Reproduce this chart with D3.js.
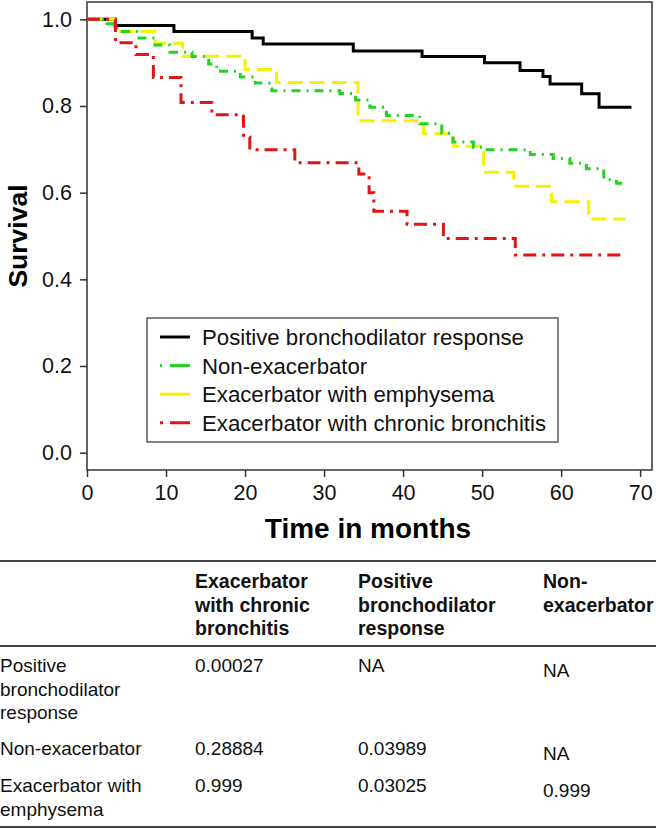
<!DOCTYPE html>
<html>
<head>
<meta charset="utf-8">
<script src="https://cdn.jsdelivr.net/npm/d3@7"></script>
<style>
  body { margin: 0; background: #fff; }
  text { font-family: "Liberation Sans", Arial, sans-serif; }
</style>
</head>
<body>
<div class="canva"></div>
<script>
// survival curves (months, survival)
const bdMonths   = [0, 3.5, 11.0, 20.9, 22.3, 33.7, 42.4, 50.3, 54.8, 57.7, 58.6, 62.6, 64.8, 68.9];
const bdSurv     = [1.0, 0.986, 0.972, 0.957, 0.943, 0.927, 0.914, 0.900, 0.882, 0.868, 0.851, 0.828, 0.797, 0.797];

const nonMonths  = [0, 2.3, 3.8, 6.3, 8.6, 10.5, 13.3, 15.4, 16.4, 19.4, 21.3, 23.4, 32.0, 34.0, 35.8, 37.9, 42.1, 44.9, 46.3, 48.9, 50.1, 56.1, 59.0, 61.1, 63.2, 65.4, 67.0, 68.3];
const nonSurv    = [1.0, 0.990, 0.972, 0.957, 0.941, 0.924, 0.914, 0.897, 0.880, 0.867, 0.853, 0.835, 0.829, 0.814, 0.797, 0.778, 0.759, 0.737, 0.717, 0.705, 0.699, 0.688, 0.679, 0.668, 0.655, 0.630, 0.622, 0.622];

const emphMonths = [0, 3.5, 8.6, 12.1, 20.0, 24.0, 34.3, 42.6, 46.4, 50.2, 54.0, 58.8, 63.5, 68.1];
const emphSurv   = [1.0, 0.972, 0.945, 0.915, 0.884, 0.854, 0.766, 0.736, 0.707, 0.647, 0.615, 0.579, 0.539, 0.539];

const cbMonths   = [0, 3.6, 6.2, 8.4, 11.9, 15.8, 19.8, 20.6, 26.3, 34.4, 35.7, 36.3, 40.5, 45.1, 54.2, 68.2];
const cbSurv     = [1.0, 0.946, 0.919, 0.866, 0.808, 0.780, 0.728, 0.699, 0.669, 0.643, 0.600, 0.557, 0.527, 0.494, 0.456, 0.456];

const groupNames = ["Positive bronchodilator response", "Non-exacerbator", "Exacerbator with emphysema", "Exacerbator with chronic bronchitis"];

const xTicks = [0, 10, 20, 30, 40, 50, 60, 70];
const yTicks = [0.0, 0.2, 0.4, 0.6, 0.8, 1.0];

// p-value table
const colHeads = [["Exacerbator", "with chronic", "bronchitis"], ["Positive", "bronchodilator", "response"], ["Non-", "exacerbator"]];
const rowHeads = [["Positive", "bronchodilator", "response"], ["Non-exacerbator"], ["Exacerbator with", "emphysema"]];
const pValues  = [["0.00027", "NA", "NA"], ["0.28884", "0.03989", "NA"], ["0.999", "0.03025", "0.999"]];

const series = [
    {name: groupNames[0], months: bdMonths,   surv: bdSurv,   color: "#000000", dash: null,        legendDash: null},
    {name: groupNames[2], months: emphMonths, surv: emphSurv, color: "#f7f000", dash: "15,7",      legendDash: null},
    {name: groupNames[1], months: nonMonths,  surv: nonSurv,  color: "#22d322", dash: "9,6,2,6",   legendDash: "2,8,20"},
    {name: groupNames[3], months: cbMonths,   surv: cbSurv,   color: "#e01515", dash: "13,6,3,6",  legendDash: "3,7,20"}
];
const legendOrder = [0, 2, 1, 3]; // index into series

const svg = d3.select('.canva').append('svg')
    .attr('width', 656)
    .attr('height', 828);

const x = d3.scaleLinear().domain([0, 71.5]).range([87, 652]);
const y = d3.scaleLinear().domain([-0.04, 1.04]).range([470, 2]);

// axes
const yAxis = svg.append('g')
    .attr('transform', 'translate(87,0)')
    .call(d3.axisLeft(y).tickValues(yTicks).tickFormat(d3.format('.1f')).tickSize(7).tickPadding(8));
const xAxis = svg.append('g')
    .attr('transform', 'translate(0,470)')
    .call(d3.axisBottom(x).tickValues(xTicks).tickFormat(d3.format('d')).tickSize(7).tickPadding(8));

[yAxis, xAxis].forEach(a => {
    a.select('.domain').remove();
    a.selectAll('line').attr('stroke', '#333').attr('stroke-width', 1.5);
    a.selectAll('text').attr('font-size', 21.5).attr('fill', '#111')
        .style('font-family', '"Liberation Sans", Arial, sans-serif');
});

svg.append('rect')
    .attr('x', 87).attr('y', 2)
    .attr('width', 565).attr('height', 468)
    .attr('fill', 'none')
    .attr('stroke', '#333')
    .attr('stroke-width', 1.5);

// curves
const line = d3.line()
    .x(d => x(d[0]))
    .y(d => y(d[1]))
    .curve(d3.curveStepAfter);

series.forEach(s => {
    const pts = s.months.map((m, i) => [m, s.surv[i]]);
    svg.append('path')
        .attr('d', line(pts))
        .attr('fill', 'none')
        .attr('stroke', s.color)
        .attr('stroke-width', 3)
        .attr('stroke-dasharray', s.dash);
});

// axis titles
svg.append('text')
    .attr('transform', 'translate(27,236) rotate(-90)')
    .attr('text-anchor', 'middle')
    .attr('font-size', 26.5)
    .attr('font-weight', 'bold')
    .text('Survival');

svg.append('text')
    .attr('x', 368).attr('y', 538)
    .attr('text-anchor', 'middle')
    .attr('font-size', 28)
    .attr('font-weight', 'bold')
    .text('Time in months');

// legend
const legend = svg.append('g');
legend.append('rect')
    .attr('x', 147).attr('y', 318)
    .attr('width', 411).attr('height', 124)
    .attr('fill', '#fff')
    .attr('stroke', '#333')
    .attr('stroke-width', 1.2);

legendOrder.forEach((k, i) => {
    const s = series[k];
    const ly = 337 + i * 28.6;
    legend.append('line')
        .attr('x1', 160).attr('x2', 190)
        .attr('y1', ly).attr('y2', ly)
        .attr('stroke', s.color)
        .attr('stroke-width', 3)
        .attr('stroke-dasharray', s.legendDash);
    legend.append('text')
        .attr('x', 202).attr('y', ly + 8)
        .attr('font-size', 22.2)
        .attr('fill', '#111')
        .text(s.name);
});

// table
const table = svg.append('g');
[561, 646, 827].forEach(ly => {
    table.append('line')
        .attr('x1', 0).attr('x2', 656)
        .attr('y1', ly).attr('y2', ly)
        .attr('stroke', '#444')
        .attr('stroke-width', 2);
});

const colX = [195, 358, 543];
const lineGap = 23.5;

colHeads.forEach((lines, c) => {
    lines.forEach((t, j) => {
        table.append('text')
            .attr('x', colX[c]).attr('y', 588 + j * lineGap)
            .attr('font-size', 19.5)
            .attr('font-weight', 'bold')
            .attr('fill', '#111')
            .text(t);
    });
});

const rowY = [672, 755, 792];
rowHeads.forEach((lines, r) => {
    lines.forEach((t, j) => {
        table.append('text')
            .attr('x', 0).attr('y', rowY[r] + j * lineGap)
            .attr('font-size', 19)
            .attr('fill', '#111')
            .text(t);
    });
    pValues[r].forEach((v, c) => {
        table.append('text')
            .attr('x', colX[c]).attr('y', rowY[r] + (c === 2 ? 5 : 0))
            .attr('font-size', 19)
            .attr('fill', '#111')
            .text(v);
    });
});
</script>
</body>
</html>
